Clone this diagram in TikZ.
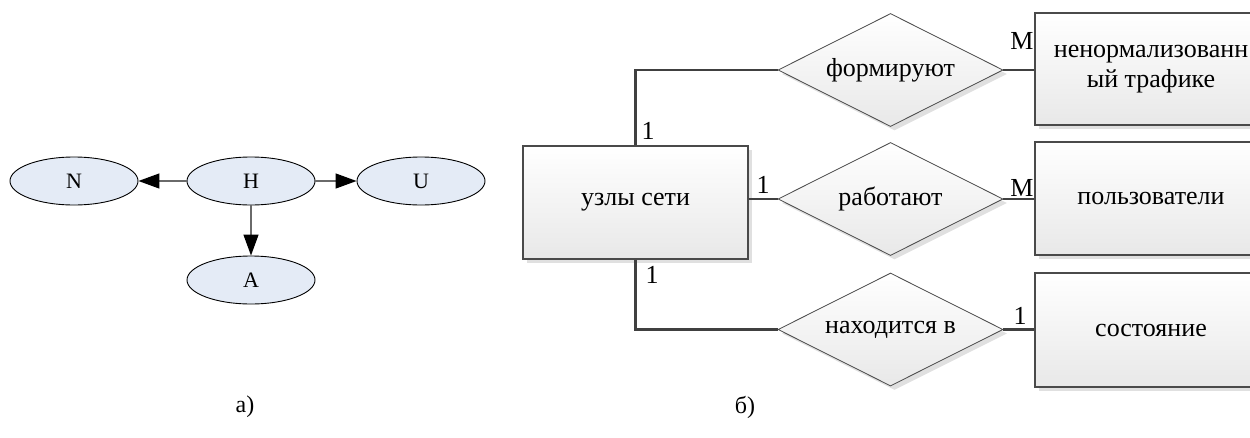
\documentclass[tikz,border=0pt]{standalone}
\usepackage{fontspec}
\setmainfont{Liberation Serif}
\usetikzlibrary{shapes.geometric,arrows.meta,shadows}

\definecolor{ellfill}{HTML}{E4EBF6}
\definecolor{edgegray}{HTML}{6A6A6A}
\definecolor{linkgray}{HTML}{404040}
\definecolor{boxedge}{HTML}{4A4A4A}

\tikzset{
  ellnode/.style={ellipse, draw=black, line width=0.9pt, fill=ellfill,
    minimum width=128, minimum height=48, inner sep=0pt,
    font=\fontsize{22}{26}\selectfont},
  arc/.style={draw=edgegray, line width=1.3pt,
    -{Triangle[length=21pt,width=15pt,fill=black,color=black]}},
  visioshadow/.style={general shadow={shadow xshift=4pt, shadow yshift=-4pt,
    fill=black!12}},
  entity/.style={rectangle, draw=boxedge, line width=1.1pt,
    top color=white, bottom color=black!9,
    minimum height=113, inner sep=0pt, align=center,
    font=\fontsize{26}{30}\selectfont, visioshadow},
  relation/.style={diamond, aspect=2, draw=boxedge, line width=0.8pt,
    top color=white, bottom color=black!9,
    minimum width=225, minimum height=113, inner sep=0pt,
    font=\fontsize{26}{30}\selectfont, visioshadow},
  link/.style={draw=linkgray, line width=2.8pt},
  card/.style={font=\fontsize{26}{30}\selectfont, inner sep=0pt},
  caption/.style={font=\fontsize{24}{28}\selectfont, inner sep=0pt}
}

\begin{document}
\begin{tikzpicture}[x=1pt,y=-1pt]
  \useasboundingbox (0,0) rectangle (1250,437);
  \clip (0,0) rectangle (1250,437);

  % left graph
  \node[ellnode] (N) at (74,181) {N};
  \node[ellnode] (H) at (251,181) {H};
  \node[ellnode] (U) at (421,181) {U};
  \node[ellnode] (A) at (251,280) {A};
  \draw[arc] (H) -- (N);
  \draw[arc] (H) -- (U);
  \draw[arc] (H) -- (A);

  \node[caption] (capa) at (245,407) {а)};

  % ER diagram
  \node[entity, minimum width=225] (nodes) at (635.5,202.5) {узлы сети};

  \node[relation] (r1) at (890.5,70) {формируют};
  \node[relation] (r2) at (890.5,199) {работают};
  \node[relation] (r3) at (890.5,329.5) {находится в};

  \node[entity, minimum width=232, minimum height=112] (e1) at (1151,69)
    {ненормализованн\\ый трафике};
  \node[entity, minimum width=232] (e2) at (1151,198.5) {пользователи};
  \node[entity, minimum width=232, minimum height=114] (e3) at (1151,330) {состояние};

  \draw[link] (nodes.north) |- (r1.west);
  \draw[link] (r2.west -| nodes.east) -- (r2.west);
  \draw[link] (nodes.south) |- (r3.west);
  \draw[link] (r1.east) -- (r1.east -| e1.west);
  \draw[link] (r2.east) -- (r2.east -| e2.west);
  \draw[link] (r3.east) -- (r3.east -| e3.west);

  \node[card] (c1) at (648,131) {1};
  \node[card] (c2) at (763,185) {1};
  \node[card] (c3) at (652,275) {1};
  \node[card] (m1) at (1022,41) {М};
  \node[card] (m2) at (1022,188) {М};
  \node[card] (c4) at (1020,316) {1};

  \node[caption] (capb) at (745,407) {б)};
\end{tikzpicture}
\end{document}
